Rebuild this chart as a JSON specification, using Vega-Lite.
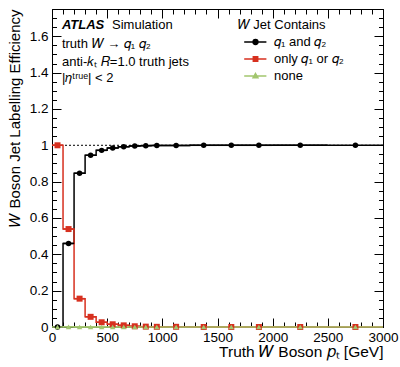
{
  "$schema": "https://vega.github.io/schema/vega-lite/v6.json",
  "width": 331,
  "height": 318,
  "autosize": {"type": "none"},
  "padding": {"left": 52, "top": 9, "right": 17, "bottom": 40},
  "background": "white",
  "config": {
    "view": {"stroke": "black", "strokeWidth": 1},
    "axis": {"domain": false, "grid": false, "tickColor": "black", "labelColor": "black", "titleColor": "black", "labelFont": "Liberation Sans", "titleFont": "Liberation Sans", "labelFontSize": 13.5, "titleFontSize": 15, "titleFontWeight": "normal", "tickWidth": 1, "labelFlush": false, "labelOverlap": false},
    "legend": {"labelFont": "Liberation Sans", "titleFont": "Liberation Sans"}
  },
  "data": {"values": [
    {"series": "both", "lo": 0, "hi": 100, "center": 50, "value": 0.0},
    {"series": "both", "lo": 100, "hi": 200, "center": 150, "value": 0.46},
    {"series": "both", "lo": 200, "hi": 300, "center": 250, "value": 0.846},
    {"series": "both", "lo": 300, "hi": 400, "center": 350, "value": 0.945},
    {"series": "both", "lo": 400, "hi": 500, "center": 450, "value": 0.972},
    {"series": "both", "lo": 500, "hi": 600, "center": 550, "value": 0.985},
    {"series": "both", "lo": 600, "hi": 700, "center": 650, "value": 0.992},
    {"series": "both", "lo": 700, "hi": 800, "center": 750, "value": 0.996},
    {"series": "both", "lo": 800, "hi": 900, "center": 850, "value": 0.998},
    {"series": "both", "lo": 900, "hi": 1000, "center": 950, "value": 0.999},
    {"series": "both", "lo": 1000, "hi": 1250, "center": 1125, "value": 0.999},
    {"series": "both", "lo": 1250, "hi": 1500, "center": 1375, "value": 1.0},
    {"series": "both", "lo": 1500, "hi": 1750, "center": 1625, "value": 1.0},
    {"series": "both", "lo": 1750, "hi": 2000, "center": 1875, "value": 1.0},
    {"series": "both", "lo": 2000, "hi": 2500, "center": 2250, "value": 1.0},
    {"series": "both", "lo": 2500, "hi": 3000, "center": 2750, "value": 1.0},
    {"series": "one", "lo": 0, "hi": 100, "center": 50, "value": 1.0},
    {"series": "one", "lo": 100, "hi": 200, "center": 150, "value": 0.539},
    {"series": "one", "lo": 200, "hi": 300, "center": 250, "value": 0.156},
    {"series": "one", "lo": 300, "hi": 400, "center": 350, "value": 0.056},
    {"series": "one", "lo": 400, "hi": 500, "center": 450, "value": 0.026},
    {"series": "one", "lo": 500, "hi": 600, "center": 550, "value": 0.015},
    {"series": "one", "lo": 600, "hi": 700, "center": 650, "value": 0.009},
    {"series": "one", "lo": 700, "hi": 800, "center": 750, "value": 0.004},
    {"series": "one", "lo": 800, "hi": 900, "center": 850, "value": 0.002},
    {"series": "one", "lo": 900, "hi": 1000, "center": 950, "value": 0.001},
    {"series": "one", "lo": 1000, "hi": 1250, "center": 1125, "value": 0.001},
    {"series": "one", "lo": 1250, "hi": 1500, "center": 1375, "value": 0.0},
    {"series": "one", "lo": 1500, "hi": 1750, "center": 1625, "value": 0.0},
    {"series": "one", "lo": 1750, "hi": 2000, "center": 1875, "value": 0.0},
    {"series": "one", "lo": 2000, "hi": 2500, "center": 2250, "value": 0.0},
    {"series": "one", "lo": 2500, "hi": 3000, "center": 2750, "value": 0.0},
    {"series": "none", "lo": 0, "hi": 100, "center": 50, "value": 0.0},
    {"series": "none", "lo": 100, "hi": 200, "center": 150, "value": 0.001},
    {"series": "none", "lo": 200, "hi": 300, "center": 250, "value": 0.0},
    {"series": "none", "lo": 300, "hi": 400, "center": 350, "value": 0.0},
    {"series": "none", "lo": 400, "hi": 500, "center": 450, "value": 0.0},
    {"series": "none", "lo": 500, "hi": 600, "center": 550, "value": 0.0},
    {"series": "none", "lo": 600, "hi": 700, "center": 650, "value": 0.0},
    {"series": "none", "lo": 700, "hi": 800, "center": 750, "value": 0.0},
    {"series": "none", "lo": 800, "hi": 900, "center": 850, "value": 0.0},
    {"series": "none", "lo": 900, "hi": 1000, "center": 950, "value": 0.0},
    {"series": "none", "lo": 1000, "hi": 1250, "center": 1125, "value": 0.0},
    {"series": "none", "lo": 1250, "hi": 1500, "center": 1375, "value": 0.0},
    {"series": "none", "lo": 1500, "hi": 1750, "center": 1625, "value": 0.0},
    {"series": "none", "lo": 1750, "hi": 2000, "center": 1875, "value": 0.0},
    {"series": "none", "lo": 2000, "hi": 2500, "center": 2250, "value": 0.0},
    {"series": "none", "lo": 2500, "hi": 3000, "center": 2750, "value": 0.0}
  ]},
  "resolve": {"axis": {"x": "independent", "y": "independent"}},
  "layer": [
    {
      "data": {"values": [{}]},
      "mark": {"type": "rule", "color": "black", "strokeDash": [2, 2], "strokeWidth": 1},
      "encoding": {
        "y": {"datum": 1, "scale": {"domain": [0, 1.75], "nice": false, "zero": false},
          "axis": {"orient": "right", "values": [0,0.05,0.1,0.15,0.2,0.25,0.3,0.35,0.4,0.45,0.5,0.55,0.6,0.65,0.7,0.75,0.8,0.85,0.9,0.95,1,1.05,1.1,1.15,1.2,1.25,1.3,1.35,1.4,1.45,1.5,1.55,1.6,1.65,1.7,1.75], "tickSize": -4.5, "labels": false, "title": null}}
      }
    },
    {
      "mark": {"type": "line", "interpolate": "step-after", "strokeWidth": 1.5},
      "encoding": {
        "x": {"field": "lo", "type": "quantitative", "scale": {"domain": [0, 3000], "nice": false, "zero": false},
          "axis": {"orient": "bottom", "values": [0,500,1000,1500,2000,2500,3000], "format": "d", "tickSize": -9, "labelPadding": 12, "title": "Truth 𝑊 Boson 𝑝ₜ [GeV]", "titleFontSize": 15.5, "titleAnchor": "end", "titlePadding": 1}},
        "y": {"field": "value", "type": "quantitative",
          "axis": {"orient": "left", "values": [0,0.2,0.4,0.6,0.8,1,1.2,1.4,1.6], "format": "~g", "tickSize": -9, "labelPadding": 13, "title": "𝑊 Boson Jet Labelling Efficiency", "titleAnchor": "end", "titlePadding": 7}},
        "detail": {"field": "series", "type": "nominal"},
        "stroke": {"condition": [{"test": "datum.series === 'one'", "value": "#d7301f"}, {"test": "datum.series === 'none'", "value": "#a2c66e"}], "value": "#000000"}
      }
    },
    {
      "mark": {"type": "rule", "strokeWidth": 1.5},
      "encoding": {
        "x": {"field": "lo", "type": "quantitative",
          "axis": {"orient": "bottom", "values": [0,100,200,300,400,500,600,700,800,900,1000,1100,1200,1300,1400,1500,1600,1700,1800,1900,2000,2100,2200,2300,2400,2500,2600,2700,2800,2900,3000], "tickSize": -5, "labels": false, "title": null}},
        "x2": {"field": "hi"},
        "y": {"field": "value", "type": "quantitative",
          "axis": {"orient": "left", "values": [0,0.05,0.1,0.15,0.2,0.25,0.3,0.35,0.4,0.45,0.5,0.55,0.6,0.65,0.7,0.75,0.8,0.85,0.9,0.95,1,1.05,1.1,1.15,1.2,1.25,1.3,1.35,1.4,1.45,1.5,1.55,1.6,1.65,1.7,1.75], "tickSize": -4.5, "labels": false, "title": null}},
        "stroke": {"condition": [{"test": "datum.series === 'one'", "value": "#d7301f"}, {"test": "datum.series === 'none'", "value": "#a2c66e"}], "value": "#000000"}
      }
    },
    {
      "mark": {"type": "point", "filled": true, "opacity": 1},
      "encoding": {
        "x": {"field": "center", "type": "quantitative",
          "axis": {"orient": "top", "values": [0,500,1000,1500,2000,2500,3000], "tickSize": -9, "labels": false, "title": null}},
        "y": {"field": "value", "type": "quantitative",
          "axis": {"orient": "right", "values": [0,0.2,0.4,0.6,0.8,1,1.2,1.4,1.6], "tickSize": -9, "labels": false, "title": null}},
        "color": {"condition": [{"test": "datum.series === 'one'", "value": "#d7301f"}, {"test": "datum.series === 'none'", "value": "#a2c66e"}], "value": "#000000"},
        "shape": {"condition": [{"test": "datum.series === 'one'", "value": "square"}, {"test": "datum.series === 'none'", "value": "triangle-up"}], "value": "circle"},
        "size": {"condition": [{"test": "datum.series === 'one'", "value": 36}], "value": 30}
      }
    },
    {
      "transform": [{"filter": "datum.series === 'legendonly'"}],
      "mark": {"type": "point", "filled": true, "opacity": 1},
      "encoding": {
        "x": {"field": "center", "type": "quantitative", "axis": null},
        "y": {"field": "value", "type": "quantitative", "axis": null},
        "color": {"field": "series", "type": "nominal",
          "scale": {"domain": ["both", "one", "none"], "range": ["#000000", "#d7301f", "#a2c66e"]},
          "legend": {
            "orient": "none", "legendX": 185.7, "legendY": 9.5, "padding": 0,
            "title": "𝑊 Jet Contains", "titleFontSize": 13, "titleFontWeight": "normal", "titleColor": "black", "titlePadding": 4,
            "labelFontSize": 13, "labelColor": "black", "symbolSize": 36, "symbolStrokeWidth": 1.5, "symbolOpacity": 1, "labelOffset": 23.3, "rowPadding": 3,
            "labelExpr": "datum.value === 'both' ? '𝑞₁ and 𝑞₂' : datum.value === 'one' ? 'only 𝑞₁ or 𝑞₂' : 'none'"
          }},
        "stroke": {"field": "series", "type": "nominal",
          "scale": {"domain": ["both", "one", "none"], "range": ["#000000", "#d7301f", "#a2c66e"]}},
        "shape": {"field": "series", "type": "nominal",
          "scale": {"domain": ["both", "one", "none"], "range": [
            "M0,0H7.4M2.97,0A0.8,0.8 0 1,0 4.57,0A0.8,0.8 0 1,0 2.97,0Z",
            "M0,0H7.4M3.04,-0.73H4.5V0.73H3.04Z",
            "M0,0H7.4M3.77,-0.8L4.57,0.6H2.97Z"
          ]}}
      }
    },
    {
      "data": {"values": [{}]},
      "mark": {"type": "text", "align": "left", "baseline": "middle", "font": "Liberation Sans", "fontSize": 13, "fontWeight": "bold", "fontStyle": "italic", "color": "black"},
      "encoding": {
        "x": {"datum": 90, "axis": {"orient": "top", "values": [0,100,200,300,400,500,600,700,800,900,1000,1100,1200,1300,1400,1500,1600,1700,1800,1900,2000,2100,2200,2300,2400,2500,2600,2700,2800,2900,3000], "tickSize": -5, "labels": false, "title": null}},
        "y": {"datum": 1.662, "axis": null},
        "text": {"value": "ATLAS"}
      }
    },
    {
      "data": {"values": [{}]},
      "mark": {"type": "text", "align": "left", "baseline": "middle", "font": "Liberation Sans", "fontSize": 13, "color": "black"},
      "encoding": {
        "x": {"datum": 544, "axis": null},
        "y": {"datum": 1.662, "axis": null},
        "text": {"value": "Simulation"}
      }
    },
    {
      "data": {"values": [{}]},
      "mark": {"type": "text", "align": "left", "baseline": "middle", "font": "Liberation Sans", "fontSize": 13, "color": "black"},
      "encoding": {
        "x": {"datum": 90, "axis": null},
        "y": {"datum": 1.56, "axis": null},
        "text": {"value": "truth 𝑊 → 𝑞₁ 𝑞₂"}
      }
    },
    {
      "data": {"values": [{}]},
      "mark": {"type": "text", "align": "left", "baseline": "middle", "font": "Liberation Sans", "fontSize": 13, "color": "black"},
      "encoding": {
        "x": {"datum": 90, "axis": null},
        "y": {"datum": 1.46, "axis": null},
        "text": {"value": "anti-𝑘ₜ 𝑅=1.0 truth jets"}
      }
    },
    {
      "data": {"values": [{}]},
      "mark": {"type": "text", "align": "left", "baseline": "middle", "font": "Liberation Sans", "fontSize": 13, "color": "black"},
      "encoding": {
        "x": {"datum": 90, "axis": null},
        "y": {"datum": 1.37, "axis": null},
        "text": {"value": "|𝜂ᵗʳᵘᵉ| < 2"}
      }
    }
  ]
}
